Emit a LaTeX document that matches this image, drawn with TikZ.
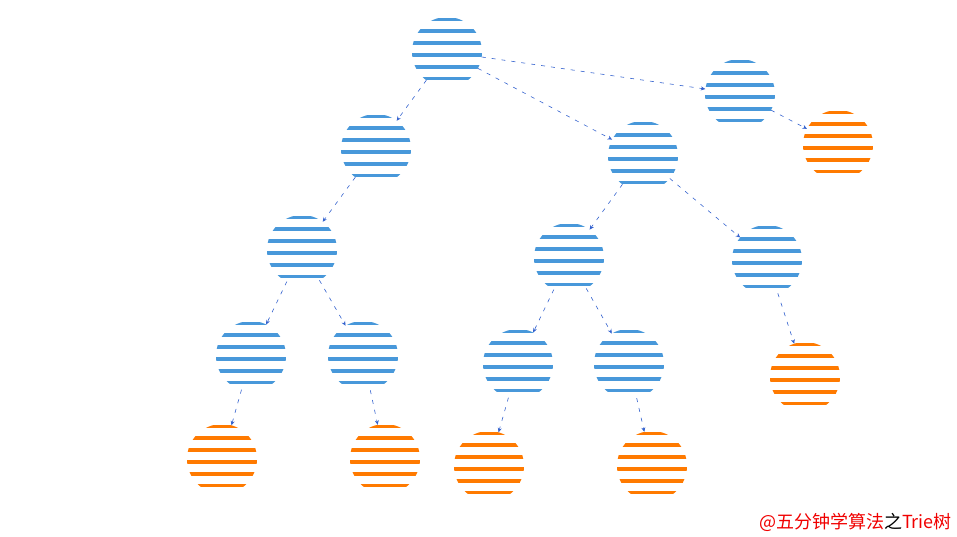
\documentclass[tikz,border=0pt]{standalone}
\usepackage{fontspec}
\newfontfamily\cjk{Noto Sans CJK SC}
\usetikzlibrary{arrows.meta}
\definecolor{nodeblue}{RGB}{72,152,218}
\definecolor{nodeorange}{RGB}{255,122,0}
\definecolor{edgeblue}{RGB}{52,98,206}
\definecolor{markred}{RGB}{240,0,0}
\tikzset{
  stripes/.style={circle, minimum size=70pt, inner sep=0pt, outer sep=0pt,
    path picture={
      \foreach \yy in {-34.5,-22.7,-10.9,0.9,12.7,24.5}
        \fill[#1, shift={(path picture bounding box.center)}] (-40,\yy) rectangle ++(80,3.8);
    }},
  bnode/.style={stripes=nodeblue},
  onode/.style={stripes=nodeorange},
  link/.style={draw=edgeblue, line width=0.6pt, dash pattern=on 4pt off 6pt,
    -{Stealth[length=4.5pt,width=4pt]}},
}
\begin{document}
\begin{tikzpicture}[x=1pt,y=-1pt]
\useasboundingbox (0,0) rectangle (957,536);
% blue (inner) nodes
\node[bnode] (root) at (447,52) {};
\node[bnode] (r1) at (740,94) {};
\node[bnode] (l) at (376,149) {};
\node[bnode] (m) at (643,156) {};
\node[bnode] (ll) at (302,250) {};
\node[bnode] (ml) at (569,258) {};
\node[bnode] (mr) at (767,260) {};
\node[bnode] (lll) at (251,356) {};
\node[bnode] (llr) at (363,356) {};
\node[bnode] (mll) at (518,364) {};
\node[bnode] (mlr) at (629,364) {};
% orange (end) nodes
\node[onode] (r1e) at (838,145) {};
\node[onode] (mre) at (805,377) {};
\node[onode] (llle) at (222,459) {};
\node[onode] (llre) at (385,459) {};
\node[onode] (mlle) at (489,466) {};
\node[onode] (mlre) at (652,466) {};
% connectors
\draw[link] (root) -- (r1);
\draw[link] (root) -- (l);
\draw[link] (root) -- (m);
\draw[link] (r1) -- (r1e);
\draw[link] (l) -- (ll);
\draw[link] (ll) -- (lll);
\draw[link] (ll) -- (llr);
\draw[link] (lll) -- (llle);
\draw[link] (llr) -- (llre);
\draw[link] (m) -- (ml);
\draw[link] (m) -- (mr);
\draw[link] (ml) -- (mll);
\draw[link] (ml) -- (mlr);
\draw[link] (mll) -- (mlle);
\draw[link] (mlr) -- (mlre);
\draw[link] (mr) -- (mre);
% watermark
\node[anchor=south east, inner sep=0pt, font=\cjk\fontsize{18}{20}\selectfont] (mark) at (952,532)
  {\textcolor{markred}{@五分钟学算法}\textcolor{black}{之}\textcolor{markred}{Trie树}};
\end{tikzpicture}
\end{document}
